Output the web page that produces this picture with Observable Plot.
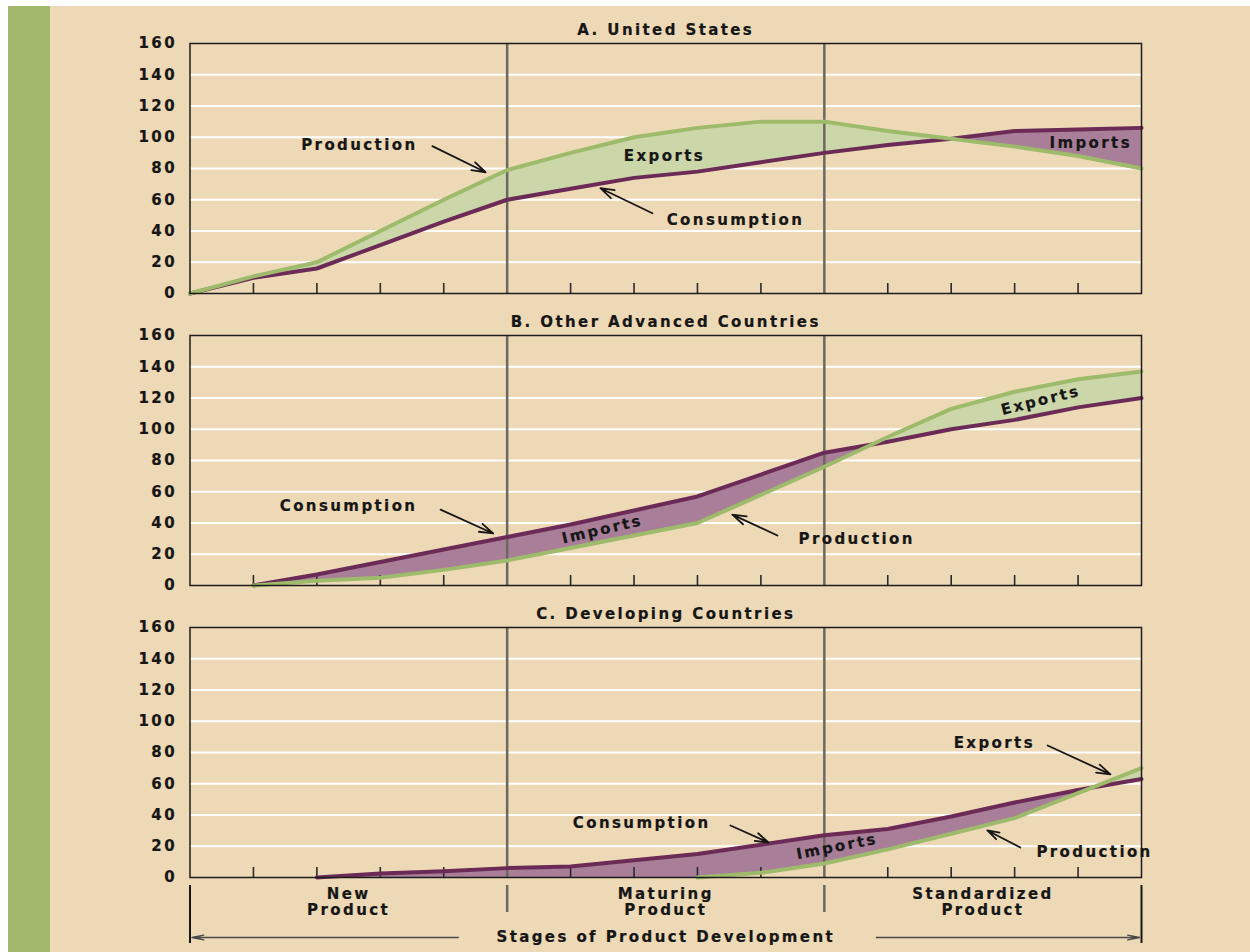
<!DOCTYPE html>
<html><head><meta charset="utf-8">
<script src="https://cdn.jsdelivr.net/npm/d3@7"></script>
<script src="https://cdn.jsdelivr.net/npm/@observablehq/plot@0.6"></script>
<style>
html,body{margin:0;padding:0;background:#fff;width:1250px;height:952px;overflow:hidden;}
#bar{position:absolute;left:8px;top:6px;width:42px;height:946px;background:#a4b86d;}
#bg{position:absolute;left:50px;top:6px;width:1200px;height:946px;background:#eed9b6;}
.panel{position:absolute;left:0;}
.panel text{stroke:#161616;stroke-width:0.2px;}
</style></head><body>
<div id="bar"></div><div id="bg"></div>
<div id="pA" class="panel" style="top:0px"></div>
<div id="pB" class="panel" style="top:292px"></div>
<div id="pC" class="panel" style="top:584px"></div>
<script>
// ---- data ----
const steps = [0, 1, 2, 3, 4, 5, 6, 7, 8, 9, 10, 11, 12, 13, 14, 15];
const yTicks = [0, 20, 40, 60, 80, 100, 120, 140, 160];
const gridValues = [20, 40, 60, 80, 100, 120, 140];
const stageBreaks = [5, 10];
const minorTicks = [1, 2, 3, 4, 6, 7, 8, 9, 11, 12, 13, 14];
const stageNames = ["New\nProduct", "Maturing\nProduct", "Standardized\nProduct"];
const stageCenters = [2.5, 7.5, 12.5];
const axisTitle = "Stages of Product Development";
const titles = ["A. United States", "B. Other Advanced Countries", "C. Developing Countries"];

const usProduction  = [0, 11, 20, 40, 60, 79, 90, 100, 106, 110, 110, 104, 99, 94, 88, 80];
const usConsumption = [0, 10, 16, 31, 46, 60, 67, 74, 78, 84, 90, 95, 99, 104, 105, 106];
const advProduction  = [null, 0, 3, 5, 10, 16, 24, 32, 40, 58, 76, 95, 113, 124, 132, 137];
const advConsumption = [null, 0, 7, 15, 23, 31, 39, 48, 57, 71, 85, 92, 100, 106, 114, 120];
const devProduction  = [null, null, null, null, null, null, null, null, 0, 3, 9, 18, 28, 38, 54, 70];
const devConsumption = [null, null, 0, 2.5, 4, 6, 7, 11, 15, 21, 27, 31, 39, 48, 56, 63];

// annotations (data units)
const usNotes = [
  {text: "Production", x: 2.67, y: 95, r: 0},
  {text: "Exports", x: 7.48, y: 88, r: 0},
  {text: "Consumption", x: 8.6, y: 47, r: 0},
  {text: "Imports", x: 14.2, y: 96, r: 0}
];
const usArrows = [
  {x1: 3.82, y1: 94.3, x2: 4.66, y2: 77.6},
  {x1: 7.29, y1: 51.4, x2: 6.47, y2: 67.4}
];
const advNotes = [
  {text: "Consumption", x: 2.5, y: 50.6, r: 0},
  {text: "Imports", x: 6.5, y: 35.8, r: -13},
  {text: "Production", x: 10.51, y: 29.4, r: 0},
  {text: "Exports", x: 13.41, y: 118.4, r: -14}
];
const advArrows = [
  {x1: 3.95, y1: 48.6, x2: 4.78, y2: 33.3},
  {x1: 9.26, y1: 32, x2: 8.55, y2: 45.4}
];
const devNotes = [
  {text: "Consumption", x: 7.12, y: 34.6, r: 0},
  {text: "Imports", x: 10.2, y: 19.8, r: -11},
  {text: "Exports", x: 12.68, y: 85.8, r: 0},
  {text: "Production", x: 14.26, y: 16.0, r: 0}
];
const devArrows = [
  {x1: 8.52, y1: 33.3, x2: 9.12, y2: 22.4},
  {x1: 13.52, y1: 84.5, x2: 14.51, y2: 66},
  {x1: 13.09, y1: 19.2, x2: 12.57, y2: 30.1}
];

// ---- styles ----
const GREEN = "#9dbb6a", GREEN_FILL = "#cbd6a9";
const PURPLE = "#6c2b56", PURPLE_FILL = "#a87e99";
const GRAY = "#6b685d", INK = "#161616";

function panel(el, title, prod, cons, notes, arrows, withStages) {
  const rows = steps.map((x, i) => ({
    x, c: cons[i], p: prod[i],
    pf: cons[i] == null ? null : (prod[i] == null ? 0 : prod[i])
  }));
  const marks = [
    Plot.ruleY(gridValues, {stroke: "white", strokeWidth: 2.2}),
    Plot.differenceY(rows, {
      x: "x", y1: "c", y2: "pf",
      positiveFill: GREEN_FILL, negativeFill: PURPLE_FILL,
      positiveFillOpacity: 1, negativeFillOpacity: 1,
      stroke: "none"
    }),
    Plot.ruleX(stageBreaks, {stroke: GRAY, strokeWidth: 2.5}),
    Plot.ruleX(minorTicks, {y1: 0, y2: 0, insetTop: -10, stroke: "#2a2a2a", strokeWidth: 1.6}),
    Plot.line(rows, {x: "x", y: "c", stroke: PURPLE, strokeWidth: 4, strokeLinejoin: "round"}),
    Plot.line(rows, {x: "x", y: "p", stroke: GREEN, strokeWidth: 4, strokeLinejoin: "round"}),
    Plot.frame({stroke: "#1c1c1c", strokeWidth: 1.5}),
    Plot.axisY({ticks: yTicks, tickSize: 0, tickPadding: 13, fontSize: 15, label: null}),
    Plot.text([title], {frameAnchor: "top", dy: -13, lineAnchor: "middle", fontSize: 15, fill: INK}),
    Plot.text(notes, {x: "x", y: "y", text: "text", rotate: "r", fontSize: 15, fill: INK}),
    Plot.arrow(arrows, {x1: "x1", y1: "y1", x2: "x2", y2: "y2", stroke: INK, strokeWidth: 1.8, headLength: 12, headAngle: 35})
  ];
  if (withStages) {
    marks.push(
      Plot.ruleX(stageBreaks, {y1: -5.1, y2: -22.4, stroke: GRAY, strokeWidth: 2.5}),
      Plot.ruleX([steps[0], steps[steps.length - 1]], {y1: -5.1, y2: -42.2, stroke: INK, strokeWidth: 2}),
      Plot.text(stageNames, {x: (d, i) => stageCenters[i], y: () => -6.2, lineAnchor: "top", lineHeight: 1.07, fontSize: 15, fill: INK}),
      Plot.arrow([{x1: 4.23, x2: 0.03}, {x1: 10.82, x2: 14.97}], {x1: "x1", x2: "x2", y1: () => -38.4, y2: () => -38.4, stroke: "#4a4a4a", strokeWidth: 1.3, headLength: 14, headAngle: 22}),
      Plot.text([axisTitle], {x: () => stageCenters[1], y: () => -38.4, fontSize: 15, fill: INK})
    );
  }
  const mt = 43, ph = 250, mb = withStages ? 75 : 5;
  const svg = Plot.plot({
    width: 1250, height: mt + ph + mb,
    marginLeft: 189.5, marginRight: 109, marginTop: mt, marginBottom: mb,
    x: {domain: [0, 15], axis: null},
    y: {domain: [0, 160]},
    style: {background: "transparent", fontFamily: "'DejaVu Sans', sans-serif", fontWeight: "bold", letterSpacing: "2.4px", overflow: "visible", color: INK},
    marks
  });
  document.getElementById(el).appendChild(svg);
}

panel("pA", titles[0], usProduction, usConsumption, usNotes, usArrows, false);
panel("pB", titles[1], advProduction, advConsumption, advNotes, advArrows, false);
panel("pC", titles[2], devProduction, devConsumption, devNotes, devArrows, true);
</script>
</body></html>
